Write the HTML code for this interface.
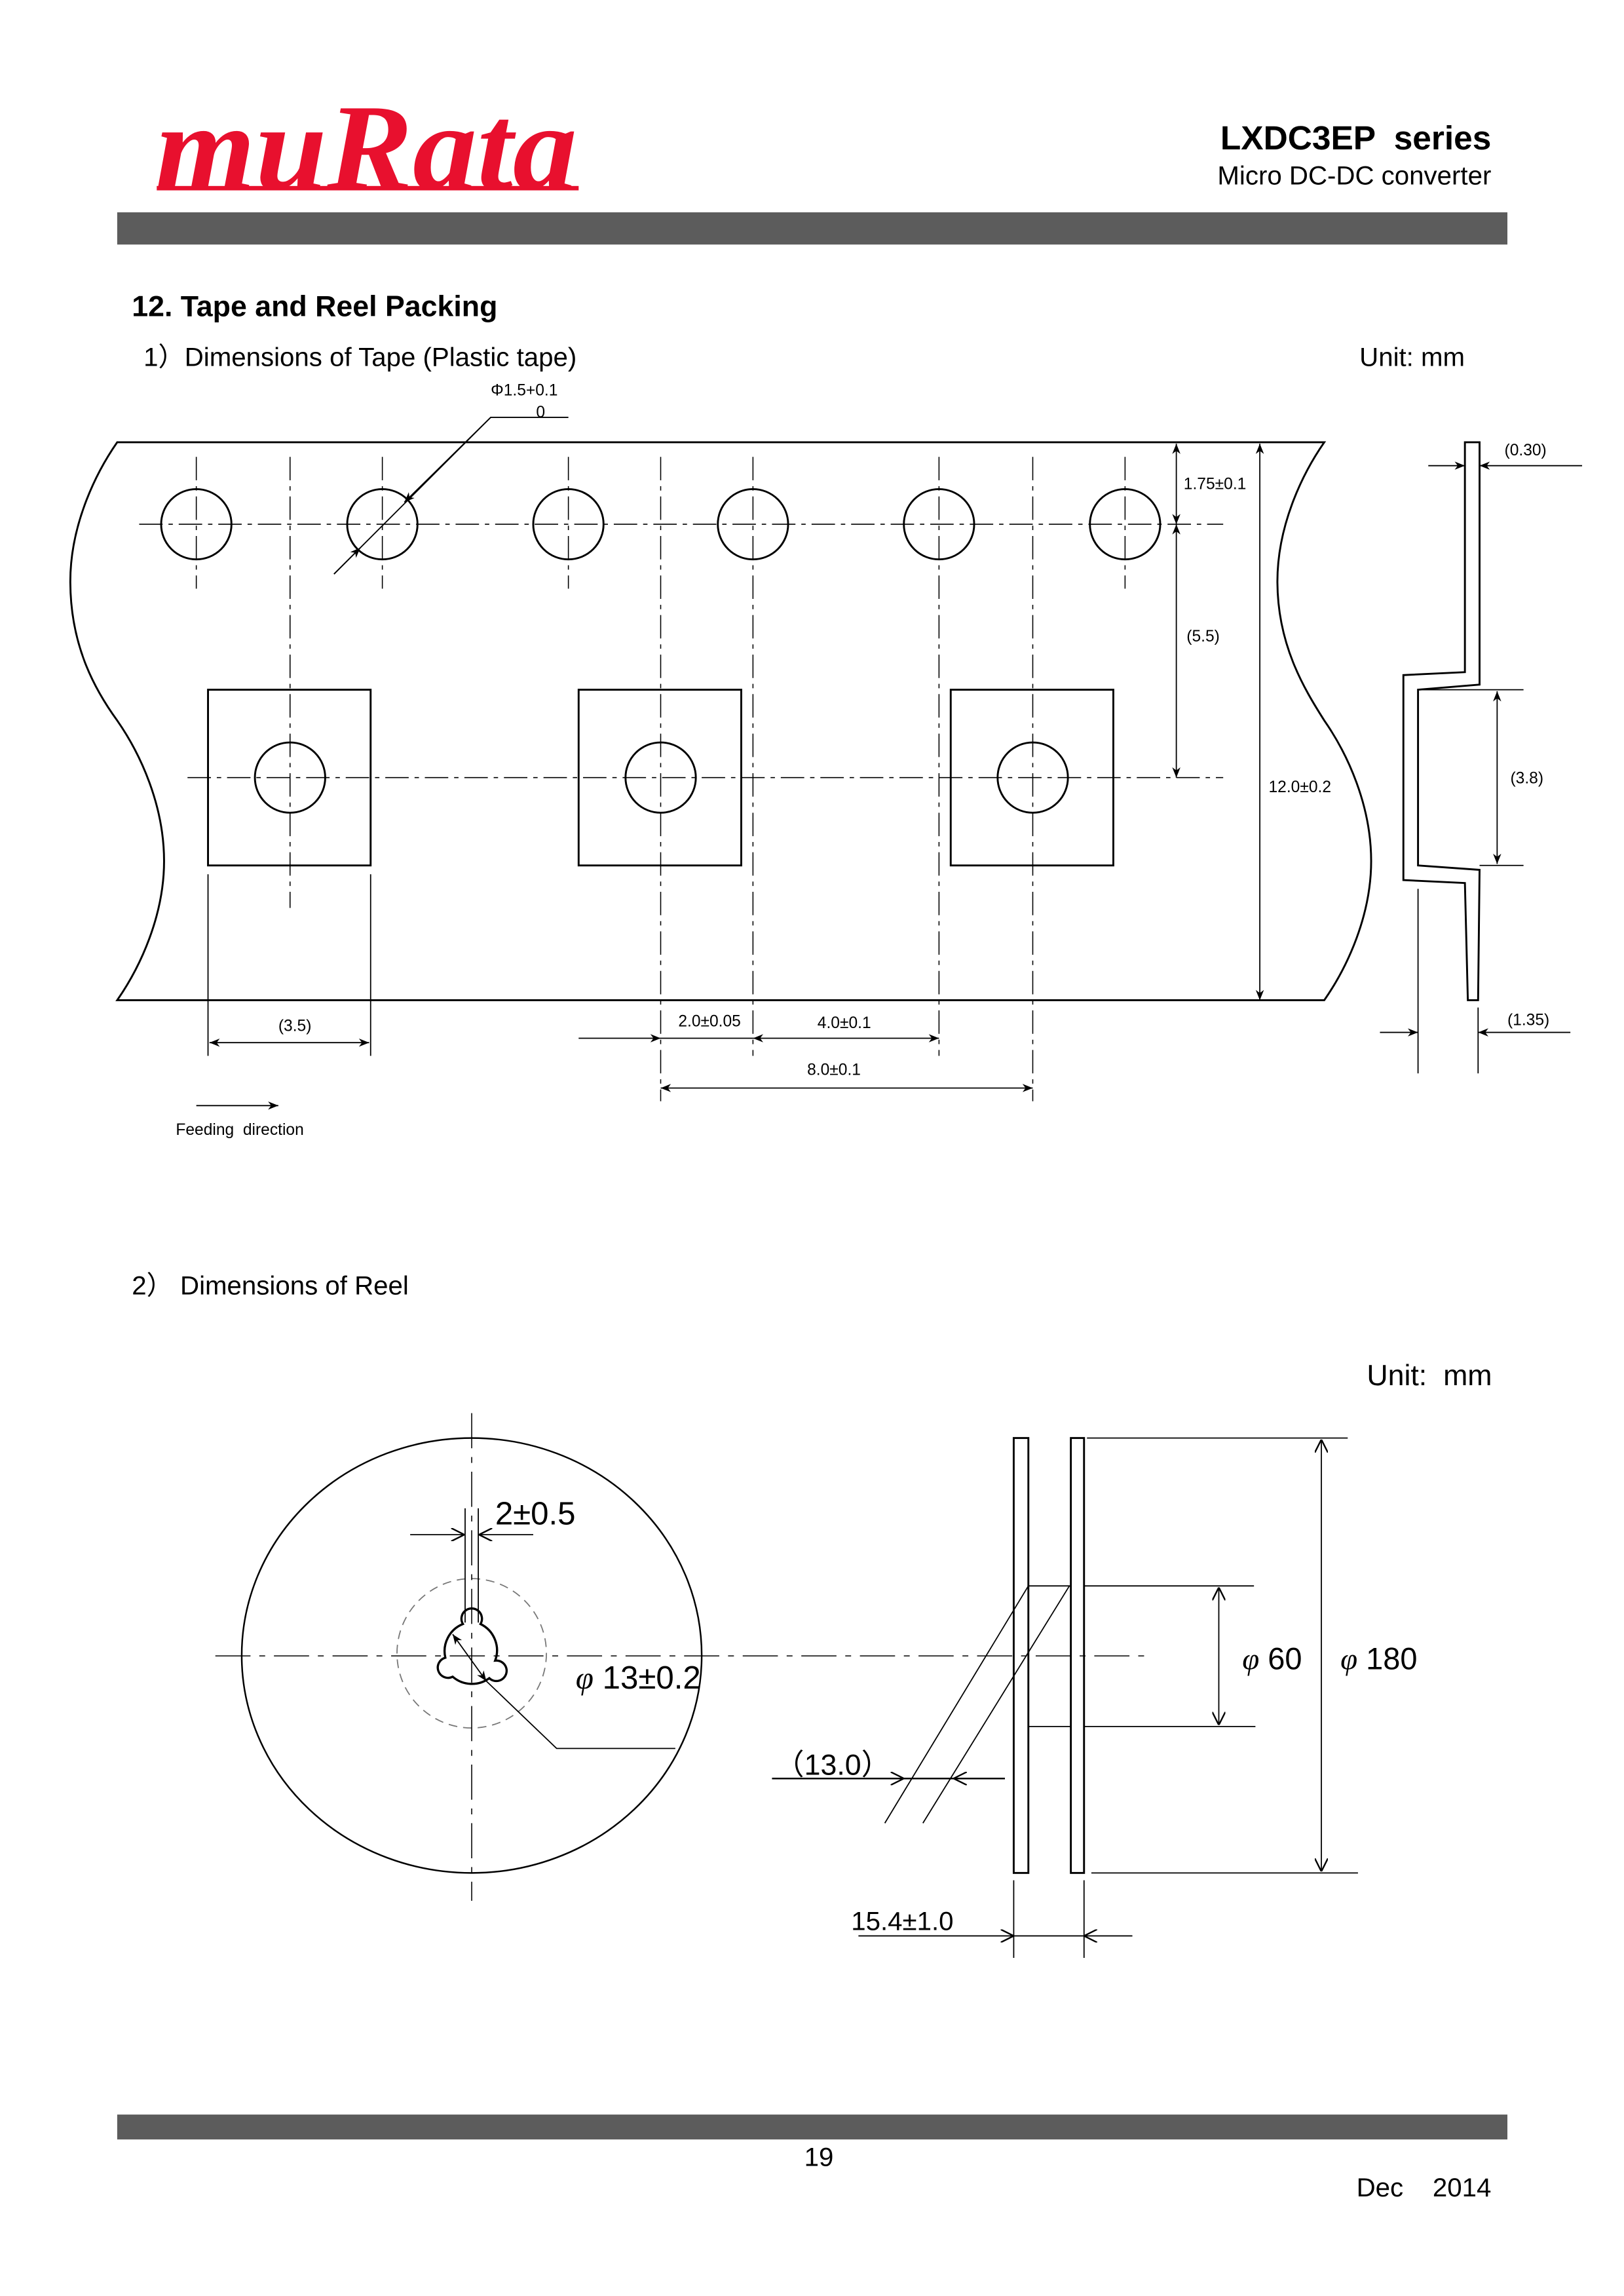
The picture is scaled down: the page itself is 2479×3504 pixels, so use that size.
<!DOCTYPE html>
<html><head><meta charset="utf-8"><style>
html,body{margin:0;padding:0;background:#fff;}
svg{display:block;}
text{font-family:"Liberation Sans","Noto Sans CJK JP",sans-serif;fill:#000;white-space:pre;}
</style></head><body>
<svg width="2479" height="3504" viewBox="0 0 1108.6 1567.9" preserveAspectRatio="none" xmlns="http://www.w3.org/2000/svg" xml:space="preserve">
<defs>
<marker id="ar" viewBox="0 0 10 10" refX="10" refY="5" markerWidth="7" markerHeight="7" orient="auto-start-reverse" markerUnits="userSpaceOnUse"><path d="M0,1 L10,5 L0,9 L3,5 Z" fill="#000"/></marker>
<marker id="ao" viewBox="0 0 10 10" refX="10" refY="5" markerWidth="9" markerHeight="9" orient="auto-start-reverse" markerUnits="userSpaceOnUse"><path d="M0,0 L10,5 L0,10" fill="none" stroke="#000" stroke-width="1.2"/></marker>
</defs>
<rect width="1108.6" height="1567.9" fill="#fff"/>

<!-- Header -->
<text x="250" y="129" text-anchor="middle" font-family="Liberation Serif, serif" font-style="italic" font-weight="bold" font-size="84" fill="#e8102e" style="fill:#e8102e;font-family:'Liberation Serif',serif" textLength="288" lengthAdjust="spacingAndGlyphs">muRata</text>
<rect x="107" y="127" width="288" height="3" fill="#e8102e"/>
<text x="1018" y="102" text-anchor="end" font-size="23" font-weight="bold">LXDC3EP  series</text>
<text x="1018" y="126" text-anchor="end" font-size="18">Micro DC-DC converter</text>
<rect x="80" y="145" width="949" height="22" fill="#5c5c5c"/>

<text x="90" y="216" font-size="20" font-weight="bold">12. Tape and Reel Packing</text>
<text x="98" y="250" font-size="18">1）Dimensions of Tape (Plastic tape)</text>
<text x="928" y="250" font-size="18">Unit: mm</text>

<!-- Tape outline -->
<g fill="none" stroke="#000" stroke-width="1.3">
<path d="M80,302 L904,302 C888,325 872,360 872,397 C872,440 890,470 904,492 C920,515 936,550 936,588 C936,625 920,660 904,683 L80,683 C96,660 112,625 112,588 C112,550 96,515 80,492 C64,470 48,440 48,397 C48,360 64,325 80,302 Z"/>
<g>
<circle cx="134" cy="358" r="24"/><circle cx="261" cy="358" r="24"/><circle cx="388" cy="358" r="24"/>
<circle cx="514" cy="358" r="24"/><circle cx="641" cy="358" r="24"/><circle cx="768" cy="358" r="24"/>
</g>
<rect x="142" y="471" width="111" height="120"/>
<rect x="395" y="471" width="111" height="120"/>
<rect x="649" y="471" width="111" height="120"/>
<circle cx="198" cy="531" r="24"/><circle cx="451" cy="531" r="24"/><circle cx="705" cy="531" r="24"/>
</g>

<!-- center lines tape -->
<g stroke="#000" stroke-width="0.7" fill="none" stroke-dasharray="16 4 3 4">
<line x1="95" y1="358" x2="835" y2="358"/>
<line x1="128" y1="531" x2="835" y2="531"/>
<line x1="134" y1="312" x2="134" y2="402"/>
<line x1="388" y1="312" x2="388" y2="402"/>
<line x1="768" y1="312" x2="768" y2="402"/>
<line x1="261" y1="312" x2="261" y2="402"/>
<line x1="198" y1="312" x2="198" y2="620"/>
<line x1="451" y1="312" x2="451" y2="752"/>
<line x1="705" y1="312" x2="705" y2="752"/>
<line x1="514" y1="312" x2="514" y2="721"/>
<line x1="641" y1="312" x2="641" y2="721"/>
</g>

<!-- tape dimensions -->
<g stroke="#000" stroke-width="0.8" fill="none">
<line x1="142" y1="597" x2="142" y2="721"/>
<line x1="253" y1="597" x2="253" y2="721"/>
<line x1="143" y1="712" x2="252" y2="712" marker-start="url(#ar)" marker-end="url(#ar)"/>
<line x1="395" y1="709" x2="451" y2="709" marker-end="url(#ar)"/>
<line x1="451" y1="709" x2="514" y2="709"/>
<line x1="514" y1="709" x2="641" y2="709" marker-start="url(#ar)" marker-end="url(#ar)"/>
<line x1="451" y1="743" x2="705" y2="743" marker-start="url(#ar)" marker-end="url(#ar)"/>
<line x1="134" y1="755" x2="190" y2="755" marker-end="url(#ar)"/>
<line x1="904" y1="302" x2="866" y2="302"/>
<line x1="803" y1="303" x2="803" y2="358" marker-start="url(#ar)" marker-end="url(#ar)"/>
<line x1="803" y1="358" x2="803" y2="531" marker-start="url(#ar)" marker-end="url(#ar)"/>
<line x1="860" y1="303" x2="860" y2="683" marker-start="url(#ar)" marker-end="url(#ar)"/>
<polyline points="388,285 335,285 228,392"/>
<line x1="335" y1="285" x2="276" y2="343" marker-end="url(#ar)"/>
<line x1="228" y1="392" x2="246" y2="374" marker-end="url(#ar)"/>
</g>
<g font-size="11">
<text x="335" y="270">Φ1.5+0.1</text>
<text x="366" y="285">0</text>
<text x="190" y="704">(3.5)</text>
<text x="463" y="701">2.0±0.05</text>
<text x="558" y="702">4.0±0.1</text>
<text x="551" y="734">8.0±0.1</text>
<text x="120" y="775">Feeding  direction</text>
<text x="808" y="334">1.75±0.1</text>
<text x="810" y="438">(5.5)</text>
<text x="866" y="541">12.0±0.2</text>
<text x="1027" y="311">(0.30)</text>
<text x="1031" y="535">(3.8)</text>
<text x="1029" y="700">(1.35)</text>
</g>

<!-- side profile -->
<g fill="none" stroke="#000" stroke-width="1.3">
<path d="M1010,302 L1000,302 L1000,459 L958,461 L958,601 L1000,603 L1002,683 L1009,683 L1010,594 L968,591 L968,471 L1010,467.5 Z"/>
</g>
<g stroke="#000" stroke-width="0.8" fill="none">
<line x1="975" y1="318" x2="1000" y2="318" marker-end="url(#ar)"/>
<line x1="1080" y1="318" x2="1010" y2="318" marker-end="url(#ar)"/>
<line x1="970" y1="471" x2="1040" y2="471"/>
<line x1="1010" y1="591" x2="1040" y2="591"/>
<line x1="1022" y1="472" x2="1022" y2="590" marker-start="url(#ar)" marker-end="url(#ar)"/>
<line x1="968" y1="607" x2="968" y2="733"/>
<line x1="1009" y1="688" x2="1009" y2="733"/>
<line x1="942" y1="705" x2="968" y2="705" marker-end="url(#ar)"/>
<line x1="1072" y1="705" x2="1009" y2="705" marker-end="url(#ar)"/>
</g>

<!-- Reel section -->
<text x="90" y="884" font-size="18">2） Dimensions of Reel</text>
<text x="933" y="946" font-size="20">Unit:  mm</text>

<ellipse cx="322" cy="1130.5" rx="157" ry="148.5" fill="none" stroke="#000" stroke-width="1.1"/>
<circle cx="322" cy="1129" r="51" fill="none" stroke="#777" stroke-width="0.8" stroke-dasharray="6 4"/>
<g stroke="#000" stroke-width="0.7" fill="none" stroke-dasharray="24 6 4 6">
<line x1="322" y1="965" x2="322" y2="1298"/>
<line x1="147" y1="1130.8" x2="786" y2="1130.8"/>
</g>
<g stroke="#000" stroke-width="0.8" fill="none">
<line x1="317.5" y1="1030" x2="317.5" y2="1108"/>
<line x1="326.5" y1="1030" x2="326.5" y2="1108"/>
<line x1="280" y1="1048" x2="317" y2="1048" marker-end="url(#ao)"/>
<line x1="364" y1="1048" x2="327" y2="1048" marker-end="url(#ao)"/>
<path d="M-6,-18 A7,7 0 1 1 6,-18 A20,20 0 0 1 16,7 A7,7 0 1 1 12,19 A20,20 0 0 1 -13,18 A7,7 0 1 1 -18,5 A20,20 0 0 1 -6,-18 Z" transform="translate(322,1127)" stroke-width="1.5"/>
<line x1="332" y1="1148" x2="309" y2="1116" marker-start="url(#ar)" marker-end="url(#ar)"/>
<polyline points="332,1148 380,1194 461,1194"/>
</g>
<text x="338" y="1041" font-size="22">2±0.5</text>
<text x="393" y="1153" font-size="22"><tspan font-family="Liberation Serif, serif" font-style="italic" style="font-family:'Liberation Serif',serif">φ</tspan> 13±0.2</text>

<!-- side view reel -->
<g fill="none" stroke="#000" stroke-width="1.3">
<rect x="692" y="982" width="10" height="297"/>
<rect x="731" y="982" width="9" height="297"/>
</g>
<g stroke="#000" stroke-width="0.8" fill="none">
<line x1="702" y1="1083" x2="731" y2="1083"/>
<line x1="702" y1="1179" x2="731" y2="1179"/>
<line x1="740" y1="1083" x2="856" y2="1083"/>
<line x1="740" y1="1179" x2="857" y2="1179"/>
<line x1="742" y1="982" x2="920" y2="982"/>
<line x1="745" y1="1279" x2="927" y2="1279"/>
<line x1="702" y1="1083" x2="604" y2="1245"/>
<line x1="730" y1="1083" x2="630" y2="1245"/>
<line x1="832" y1="1084" x2="832" y2="1178" marker-start="url(#ao)" marker-end="url(#ao)"/>
<line x1="902" y1="983" x2="902" y2="1278" marker-start="url(#ao)" marker-end="url(#ao)"/>
<line x1="527" y1="1214.5" x2="686" y2="1214.5" stroke-width="1.1"/>
<line x1="600" y1="1214.5" x2="617" y2="1214.5" marker-end="url(#ao)"/>
<line x1="668" y1="1214.5" x2="651" y2="1214.5" marker-end="url(#ao)"/>
<line x1="692" y1="1284" x2="692" y2="1337"/>
<line x1="740" y1="1284" x2="740" y2="1337"/>
<line x1="586" y1="1322" x2="692" y2="1322" marker-end="url(#ao)"/>
<line x1="692" y1="1322" x2="740" y2="1322"/>
<line x1="773" y1="1322" x2="740" y2="1322" marker-end="url(#ao)"/>
</g>
<text x="529" y="1212" font-size="20">（13.0）</text>
<text x="848" y="1140" font-size="21"><tspan font-family="Liberation Serif, serif" font-style="italic" style="font-family:'Liberation Serif',serif">φ</tspan> 60</text>
<text x="915" y="1140" font-size="21"><tspan font-family="Liberation Serif, serif" font-style="italic" style="font-family:'Liberation Serif',serif">φ</tspan> 180</text>
<text x="581" y="1318" font-size="18">15.4±1.0</text>

<!-- Footer -->
<rect x="80" y="1444" width="949" height="17" fill="#5c5c5c"/>
<text x="559" y="1479" font-size="18" text-anchor="middle">19</text>
<text x="1018" y="1500" font-size="18" text-anchor="end">Dec    2014</text>
</svg>
</body></html>
